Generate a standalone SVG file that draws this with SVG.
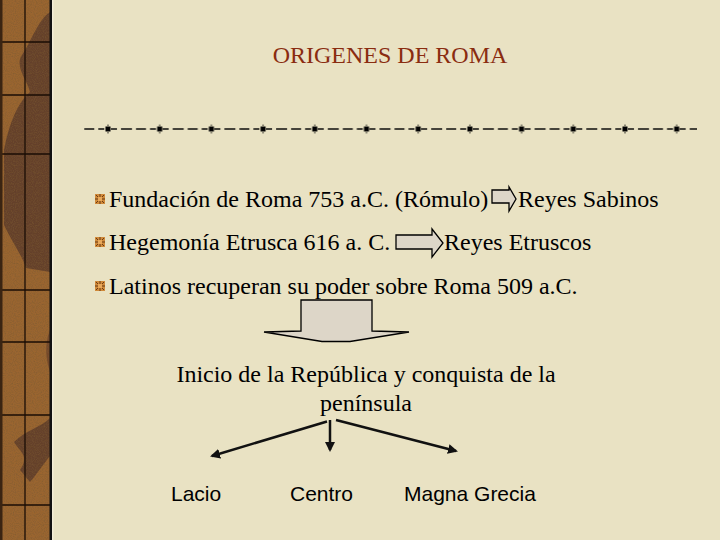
<svg xmlns="http://www.w3.org/2000/svg" width="720" height="540" viewBox="0 0 720 540">
<style>
.t{font-family:"Liberation Serif","Times New Roman",serif;font-size:24px;fill:#000}
.s{font-family:"Liberation Sans",Arial,sans-serif;font-size:21px;fill:#000}
.blk{fill:#DDD6C8;stroke:#000;stroke-width:1.3}
.con{stroke:#111;stroke-width:2.5;fill:none}
.grid{stroke:#1a0d05;stroke-width:1.3}
</style>
<defs>
<filter id="grain" x="0" y="0" width="100%" height="100%">
<feTurbulence type="fractalNoise" baseFrequency="0.9" numOctaves="2" seed="3" result="n"/>
<feColorMatrix in="n" type="matrix" values="0 0 0 0 0.2  0 0 0 0 0.1  0 0 0 0 0.03  0 0 0 1.2 -0.45" result="c"/>
<feComposite in="c" in2="SourceGraphic" operator="in"/>
</filter>
<marker id="ah" viewBox="0 0 10 10" refX="8" refY="5" markerWidth="4" markerHeight="4" orient="auto" markerUnits="strokeWidth">
<path d="M0,0 L10,5 L0,10 Z" fill="#111"/>
</marker>
<pattern id="dash" patternUnits="userSpaceOnUse" x="82.15" y="124" width="51.7" height="10">
<rect x="2.15" y="4.3" width="10" height="1.4" fill="#000"/>
<rect x="16.15" y="4.3" width="6" height="1.4" fill="#000"/>
<rect x="28.85" y="4.3" width="6" height="1.4" fill="#000"/>
<rect x="38.85" y="4.3" width="11" height="1.4" fill="#000"/>
<rect x="23.35" y="2.5" width="5" height="5" fill="#000"/>
<rect x="25.35" y="0.6" width="1" height="1.2" fill="#000"/>
<rect x="25.35" y="8.2" width="1" height="1.2" fill="#000"/>
</pattern>
<g id="bul">
<rect x="-5" y="-5" width="10" height="10" fill="#D08A3A"/>
<path d="M0,-5 V5 M-5,0 H5 M-4,-4 L4,4 M4,-4 L-4,4" stroke="#6B3A14" stroke-width="1"/>
<rect x="-2" y="-2" width="4" height="4" fill="#E8A85A"/>
</g>
</defs>
<rect width="720" height="540" fill="#E9E2C3"/>
<g id="strip">
<rect x="0" y="0" width="51" height="540" fill="#9A6530"/>
<path d="M50,12 C38,20 32,40 22,55 C14,66 28,82 30,92 C15,105 8,130 4,150 L4,225 C12,242 22,255 26,268 L50,272 Z" fill="#64402A"/>
<path d="M50,418 C40,428 26,430 14,442 C20,452 30,456 20,470 L30,482 C40,470 45,462 50,456 Z" fill="#64402A"/>
<path d="M50,330 C44,345 46,360 50,372 Z" fill="#74482A"/>
<rect x="0" y="0" width="51" height="540" fill="#000" filter="url(#grain)"/>
<line class="grid" x1="25" y1="0" x2="25" y2="540"/>
<line class="grid" x1="2" y1="42" x2="50" y2="42"/>
<line class="grid" x1="2" y1="95" x2="50" y2="95"/>
<line class="grid" x1="2" y1="154" x2="50" y2="154"/>
<line class="grid" x1="2" y1="290" x2="50" y2="290"/>
<line class="grid" x1="2" y1="342" x2="50" y2="342"/>
<line class="grid" x1="2" y1="415" x2="50" y2="415"/>
<line class="grid" x1="2" y1="505" x2="50" y2="505"/>
<rect x="0" y="0" width="2.5" height="540" fill="#3A2412"/>
<rect x="49.5" y="0" width="2.5" height="540" fill="#111"/>
<rect x="52" y="0" width="1.5" height="540" fill="#F2ECD6"/>
</g>
<text id="title" x="390" y="63" text-anchor="middle" style="font-family:'Liberation Serif','Times New Roman',serif;font-size:24px;fill:#8A2C10">ORIGENES DE ROMA</text>
<rect id="divider" x="84" y="124" width="613" height="10" fill="url(#dash)"/>
<g id="item1">
<use href="#bul" x="100" y="199"/>
<text class="t" x="109" y="207">Fundación de Roma 753 a.C. (Rómulo)</text>
</g>
<g id="arrow1">
<path class="blk" d="M492,190 H509 V187 L516,199 L509,211 V203 H492 Z"/>
</g>
<g id="sabinos"><text class="t" x="518" y="207">Reyes Sabinos</text></g>
<g id="item2">
<use href="#bul" x="100" y="242"/>
<text class="t" x="109" y="250">Hegemonía Etrusca 616 a. C.</text>
</g>
<g id="arrow2">
<path class="blk" d="M396,235 H432 V229 L443,243 L432,257 V249 H396 Z"/>
</g>
<g id="etruscos"><text class="t" x="444" y="250">Reyes Etruscos</text></g>
<g id="item3">
<use href="#bul" x="100" y="286"/>
<text class="t" x="109" y="294">Latinos recuperan su poder sobre Roma 509 a.C.</text>
</g>
<g id="downarrow">
<path class="blk" d="M301,300 H372 V331 L409,332 L350,341.5 H322 L264,332 L301,331 Z"/>
</g>
<g id="republica">
<text class="t" x="366" y="382" text-anchor="middle">Inicio de la República y conquista de la</text>
<text class="t" x="366" y="411" text-anchor="middle">península</text>
</g>
<g id="connectors">
<line class="con" x1="327" y1="421.5" x2="212" y2="456" marker-end="url(#ah)"/>
<line class="con" x1="330" y1="420" x2="330" y2="450" marker-end="url(#ah)"/>
<line class="con" x1="336" y1="420" x2="456" y2="451" marker-end="url(#ah)"/>
</g>
<g id="lacio"><text class="s" x="171" y="501">Lacio</text></g>
<g id="centro"><text class="s" x="290" y="501">Centro</text></g>
<g id="magna"><text class="s" x="404" y="501">Magna Grecia</text></g>
</svg>
